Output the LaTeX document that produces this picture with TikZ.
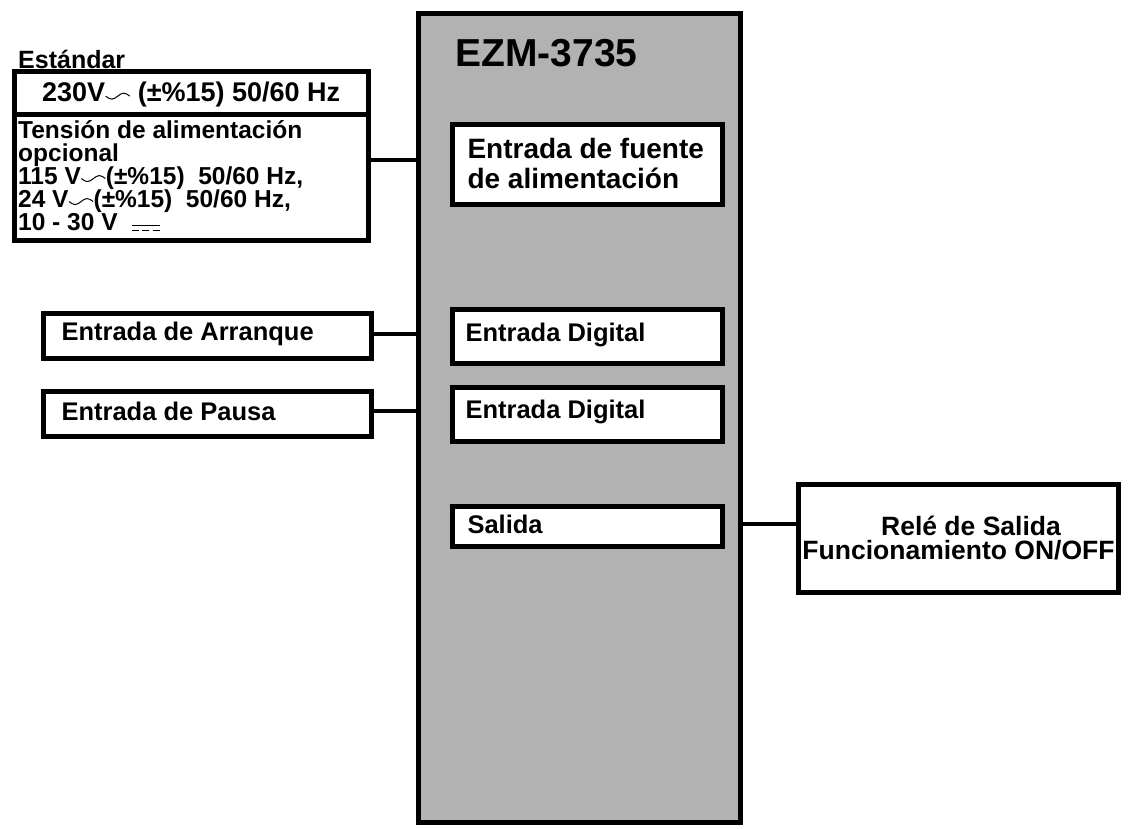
\documentclass[tikz,border=0pt]{standalone}
\usepackage{fontspec}
\setmainfont{Liberation Sans}
\newcommand\acsym{\tikz[baseline=-0.2ex]\draw[line width=1pt] (0,3pt) sin (6pt,0) cos (12pt,3pt) sin (18pt,6pt) cos (24pt,3pt);}
\newcommand\dcsym{\tikz[baseline=0pt]{\draw[line width=1pt] (0,5pt)--(28pt,5pt); \draw[line width=1pt,dash pattern=on 7pt off 3.5pt] (0,0)--(28pt,0);}}
\begin{document}
\begin{tikzpicture}[x=1pt,y=-1pt,
  bx/.style={draw=black,line width=5pt,fill=white},
  ln/.style={line width=4pt},
  lbl/.style={font=\bfseries\fontsize{25.5}{26}\selectfont,anchor=west,align=left}]
\useasboundingbox (0,0) rectangle (1129,829);
\fill[white] (0,0) rectangle (1129,829);
% main
\draw[line width=5pt,fill=black!30] (418,14) rectangle (740,822);
\node[font=\bfseries\fontsize{39}{40}\selectfont,anchor=west] (title) at (452,53) {EZM-3735};
% supply
\draw[bx] (14,72) rectangle (368,240);
\draw[line width=5pt] (14,115) -- (368,115);
\node[font=\bfseries\fontsize{25}{30}\selectfont,anchor=west,inner sep=0] (std) at (18,59) {Estándar};
\node[lbl,font=\bfseries\fontsize{27}{28}\selectfont,inner sep=0] (v230) at (42,95) {230V\acsym\ (±\%15) 50/60 Hz};
\node[lbl,font=\bfseries\fontsize{24.5}{23}\selectfont,anchor=north west,inner sep=0] (opt) at (18,120) {Tensión de alimentación\\opcional\\115 V\acsym(±\%15)\ \ 50/60 Hz,\\24 V\acsym(±\%15)\ \ 50/60 Hz,\\10 - 30 V\ \ \dcsym};
\coordinate (supR) at (368,160);
\node[bx,minimum width=270,minimum height=80,anchor=north west,inner sep=0] (pwr) at (450,122) {};
\node[lbl,font=\bfseries\fontsize{28}{30}\selectfont] at (464,163) {Entrada de fuente\\de alimentación};
\draw[ln] (supR) -- (418,160);
% digital
\node[bx,minimum width=270,minimum height=54,anchor=north west] (d1) at (450,307) {};
\node[lbl] at (462,335) {Entrada Digital};
\node[bx,minimum width=270,minimum height=54,anchor=north west] (d2) at (450,385) {};
\node[lbl] at (462,412) {Entrada Digital};
\node[bx,minimum width=328,minimum height=45,anchor=north west] (arr) at (41,311) {};
\node[lbl] at (58,334) {Entrada de Arranque};
\node[bx,minimum width=328,minimum height=45,anchor=north west] (pau) at (41,389) {};
\node[lbl] at (58,411) {Entrada de Pausa};
\draw[ln] (arr.east |- 0,334) -- (418,334);
\draw[ln] (pau.east |- 0,411) -- (418,411);
% output
\node[bx,minimum width=270,minimum height=40,anchor=north west] (sal) at (450,504) {};
\node[lbl] at (464,524) {Salida};
\node[bx,minimum width=320,minimum height=108,anchor=north west,align=center,inner sep=0,font=\bfseries\fontsize{26.5}{24}\selectfont] (rel) at (796,482) {\hspace*{25pt}Relé de Salida\\Funcionamiento ON/OFF};
\draw[ln] (740,524) -- (rel.west |- 0,524);
\end{tikzpicture}
\end{document}
